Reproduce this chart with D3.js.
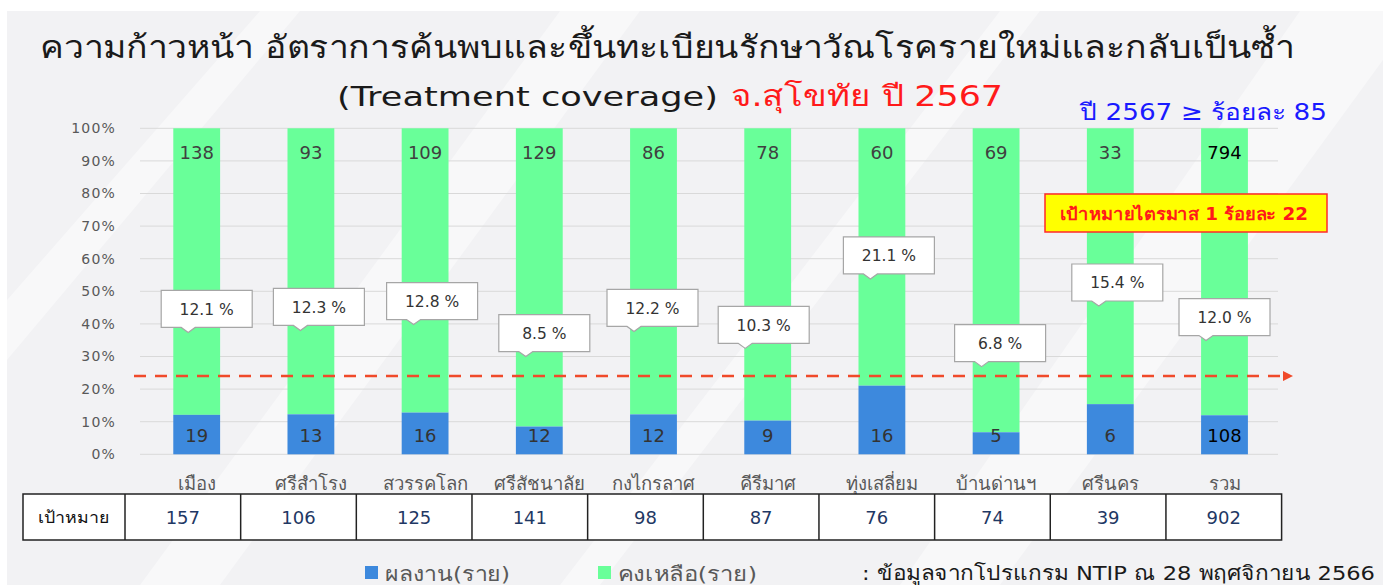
<!DOCTYPE html>
<html>
<head>
<meta charset="utf-8">
<script src="https://cdn.jsdelivr.net/npm/d3@7"></script>
<style>
  body { margin: 0; background: #ffffff; }
  svg { display: block; font-family: "DejaVu Sans", Tahoma, "Noto Sans", sans-serif; }
</style>
</head>
<body>
<svg id="chart"></svg>
<script>
// district names (last one is the total)
var districts = ["เมือง", "ศรีสำโรง", "สวรรคโลก", "ศรีสัชนาลัย", "กงไกรลาศ", "คีรีมาศ", "ทุ่งเสลี่ยม", "บ้านด่านฯ", "ศรีนคร", "รวม"];
var results = [19, 13, 16, 12, 12, 9, 16, 5, 6, 108];          // ผลงาน(ราย)
var remaining = [138, 93, 109, 129, 86, 78, 60, 69, 33, 794];    // คงเหลือ(ราย)
var targets = [157, 106, 125, 141, 98, 87, 76, 74, 39, 902];     // เป้าหมาย
var percentLabels = ["12.1 %", "12.3 %", "12.8 %", "8.5 %", "12.2 %", "10.3 %", "21.1 %", "6.8 %", "15.4 %", "12.0 %"];
var yTicks = [0, 10, 20, 30, 40, 50, 60, 70, 80, 90, 100];
var targetLine = 24;

// where the callout boxes sit (axis %, and shift from the bar centre)
var calloutLevel = [44.6, 45.2, 47.0, 37.2, 44.9, 39.7, 61.0, 34.1, 52.7, 42.1];
var calloutShift = [10, 8, 7, 5, -1, -4, 7, 4, 7, 0];

const W = 1383, H = 585;
const svg = d3.select("#chart").attr("width", W).attr("height", H);

// helper: squeeze/stretch a text to a known width
function fitText(sel, len) {
	return sel.attr("textLength", len).attr("lengthAdjust", "spacingAndGlyphs");
}

// background with a few soft diagonal streaks
svg.append("rect").attr("x", 7).attr("y", 11).attr("width", W - 7).attr("height", H - 11).attr("fill", "#f2f2f4");
let streaks = [
	[[140, 585], [560, 11], [640, 11], [220, 585]],
	[[560, 585], [1000, 11], [1040, 11], [600, 585]],
	[[900, 585], [1300, 11], [1383, 11], [1383, 60], [1000, 585]],
	[[7, 300], [260, 11], [300, 11], [7, 360]]
];
svg.selectAll(".streak")
	.data(streaks).enter()
	.append("polygon")
	.attr("class", "streak")
	.attr("points", (d) => d.map((p) => p.join(",")).join(" "))
	.attr("fill", "#ffffff")
	.attr("opacity", 0.45);

// titles
fitText(svg.append("text")
	.attr("x", 40).attr("y", 58)
	.attr("font-size", 31)
	.attr("fill", "#1a1a1a")
	.text("ความก้าวหน้า อัตราการค้นพบและขึ้นทะเบียนรักษาวัณโรครายใหม่และกลับเป็นซ้ำ"), 1255);
fitText(svg.append("text")
	.attr("x", 337).attr("y", 106)
	.attr("font-size", 27)
	.attr("fill", "#1a1a1a")
	.text("(Treatment coverage)"), 381);
fitText(svg.append("text")
	.attr("x", 731).attr("y", 106)
	.attr("font-size", 29)
	.attr("fill", "#ff1a1a")
	.text("จ.สุโขทัย ปี 2567"), 272);

fitText(svg.append("text")
	.attr("x", 1080).attr("y", 120)
	.attr("font-size", 23)
	.attr("fill", "#1a1aff")
	.text("ปี 2567 ≥ ร้อยละ 85"), 247);

// scales
let x = d3.scaleBand().domain(districts).range([139.6, 1281.6]).paddingInner(0.59).paddingOuter(0.295);
let y = d3.scaleLinear().domain([0, 100]).range([454.3, 128.3]);

// gridlines and y labels
svg.selectAll(".grid")
	.data(yTicks).enter()
	.append("line")
	.attr("class", "grid")
	.attr("x1", 140).attr("x2", 1278)
	.attr("y1", (d) => y(d)).attr("y2", (d) => y(d))
	.attr("stroke", "#d9d9d9").attr("stroke-width", 1);
let yAxis = d3.axisLeft(y).tickValues(yTicks).tickFormat((d) => d + "%").tickSize(0).tickPadding(0);
let ya = svg.append("g").attr("transform", "translate(116,0)").call(yAxis);
ya.select(".domain").remove();
ya.selectAll("text")
	.attr("font-size", 14)
	.attr("letter-spacing", 1.2)
	.attr("fill", "#595959")
	.attr("font-family", "'DejaVu Sans', sans-serif");

// stacked 100% bars
let pct = results.map((d, i) => d / targets[i] * 100);
svg.selectAll(".bar-rem")
	.data(districts).enter()
	.append("rect")
	.attr("class", "bar-rem")
	.attr("x", (d) => x(d))
	.attr("width", x.bandwidth())
	.attr("y", y(100))
	.attr("height", (d, i) => y(pct[i]) - y(100))
	.attr("fill", "#69ff99");
svg.selectAll(".bar-res")
	.data(districts).enter()
	.append("rect")
	.attr("class", "bar-res")
	.attr("x", (d) => x(d))
	.attr("width", x.bandwidth())
	.attr("y", (d, i) => y(pct[i]))
	.attr("height", (d, i) => y(0) - y(pct[i]))
	.attr("fill", "#3d89dd");

// bar value labels
svg.selectAll(".lab-rem")
	.data(remaining).enter()
	.append("text")
	.attr("class", "lab-rem")
	.attr("x", (d, i) => x(districts[i]) + x.bandwidth() / 2)
	.attr("y", y(100) + 31)
	.attr("text-anchor", "middle")
	.attr("font-size", 18)
	.attr("fill", (d, i) => i == districts.length - 1 ? "#000000" : "#404040")
	.text((d) => d);
svg.selectAll(".lab-res")
	.data(results).enter()
	.append("text")
	.attr("class", "lab-res")
	.attr("x", (d, i) => x(districts[i]) + x.bandwidth() / 2)
	.attr("y", y(0) - 12)
	.attr("text-anchor", "middle")
	.attr("font-size", 18)
	.attr("fill", (d, i) => i == districts.length - 1 ? "#000000" : "#333333")
	.text((d) => d);

// target dashed line with arrow
svg.append("defs").append("marker")
	.attr("id", "arrow")
	.attr("viewBox", "0 0 10 10")
	.attr("refX", 1).attr("refY", 5)
	.attr("markerWidth", 4).attr("markerHeight", 4)
	.attr("orient", "auto")
	.append("path").attr("d", "M0,0 L10,5 L0,10 z").attr("fill", "#f04a2a");
svg.append("line")
	.attr("x1", 134).attr("x2", 1284)
	.attr("y1", y(targetLine)).attr("y2", y(targetLine))
	.attr("stroke", "#f04a2a").attr("stroke-width", 2.5)
	.attr("stroke-dasharray", "12,9")
	.attr("marker-end", "url(#arrow)");

// percentage callouts
const bw = 91, bh = 37;
let callouts = svg.selectAll(".callout")
	.data(percentLabels).enter()
	.append("g")
	.attr("class", "callout")
	.attr("transform", (d, i) => "translate(" + (x(districts[i]) + x.bandwidth() / 2 + calloutShift[i] - bw / 2) + "," + (y(calloutLevel[i]) - bh / 2) + ")");
callouts.append("path")
	.attr("d", "M0,0 H" + bw + " V" + bh + " H34 L27,42 L20," + bh + " H0 Z")
	.attr("fill", "#ffffff")
	.attr("stroke", "#a6a6a6").attr("stroke-width", 1.2);
callouts.append("text")
	.attr("x", bw / 2).attr("y", bh / 2 + 6)
	.attr("text-anchor", "middle")
	.attr("font-size", 15.5)
	.attr("fill", "#333333")
	.text((d) => d);

// quarter target box
svg.append("rect")
	.attr("x", 1045).attr("y", 194).attr("width", 282).attr("height", 38)
	.attr("fill", "#ffff00").attr("stroke", "#ff2a2a").attr("stroke-width", 1.5);
fitText(svg.append("text")
	.attr("x", 1060).attr("y", 220)
	.attr("font-size", 17).attr("font-weight", "bold")
	.attr("fill", "#ff1a1a")
	.text("เป้าหมายไตรมาส 1 ร้อยละ 22"), 248);

// category labels
svg.selectAll(".cat")
	.data(districts).enter()
	.append("text")
	.attr("class", "cat")
	.attr("x", (d) => x(d) + x.bandwidth() / 2)
	.attr("y", 490)
	.attr("text-anchor", "middle")
	.attr("font-size", 18.5)
	.attr("fill", "#595959")
	.text((d) => d);

// target table
let tx = d3.scaleBand().domain(districts).range([125, 1281.6]);
let tTop = 494, tH = 46;
svg.append("rect")
	.attr("x", 23).attr("y", tTop).attr("width", 1281.6 - 23).attr("height", tH)
	.attr("fill", "#ffffff").attr("stroke", "#222222").attr("stroke-width", 1.5);
svg.selectAll(".tcell")
	.data(districts).enter()
	.append("line")
	.attr("class", "tcell")
	.attr("x1", (d) => tx(d)).attr("x2", (d) => tx(d))
	.attr("y1", tTop).attr("y2", tTop + tH)
	.attr("stroke", "#222222").attr("stroke-width", 1.5);
fitText(svg.append("text")
	.attr("x", 38).attr("y", tTop + 29)
	.attr("font-size", 16)
	.attr("fill", "#111111")
	.text("เป้าหมาย"), 71);
svg.selectAll(".tval")
	.data(targets).enter()
	.append("text")
	.attr("class", "tval")
	.attr("x", (d, i) => tx(districts[i]) + tx.bandwidth() / 2)
	.attr("y", tTop + 30)
	.attr("text-anchor", "middle")
	.attr("font-size", 18)
	.attr("fill", "#1f3864")
	.text((d) => d);

// legend
let legendItems = [["ผลงาน(ราย)", "#3d89dd", 365, 125], ["คงเหลือ(ราย)", "#69ff99", 598, 139]];
let lg = svg.selectAll(".legend")
	.data(legendItems).enter()
	.append("g")
	.attr("class", "legend")
	.attr("transform", (d) => "translate(" + d[2] + ",566)");
lg.append("rect").attr("width", 13).attr("height", 13).attr("fill", (d) => d[1]);
lg.append("text")
	.attr("x", 20).attr("y", 15)
	.attr("font-size", 20)
	.attr("fill", "#595959")
	.attr("textLength", (d) => d[3])
	.attr("lengthAdjust", "spacingAndGlyphs")
	.text((d) => d[0]);

fitText(svg.append("text")
	.attr("x", 862).attr("y", 580)
	.attr("font-size", 20)
	.attr("fill", "#1a1a1a")
	.text(": ข้อมูลจากโปรแกรม NTIP ณ 28 พฤศจิกายน 2566"), 513);
</script>
</body>
</html>
